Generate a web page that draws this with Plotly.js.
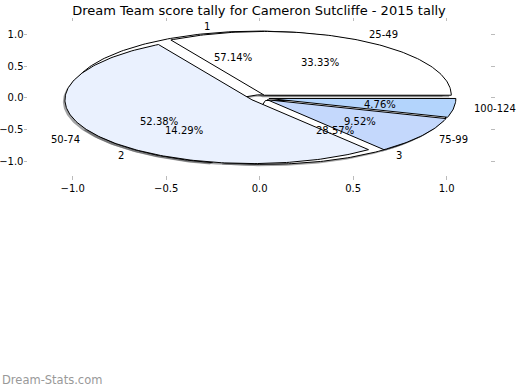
<!DOCTYPE html>
<html>
<head>
<meta charset="utf-8">
<script src="https://cdn.plot.ly/plotly-3.0.1.min.js"></script>
<style>html,body{margin:0;padding:0;background:#fff;}#chart{width:520px;height:390px;}</style>
</head>
<body>
<div id="chart"></div>
<script>
// ---- data ----
const titleText = 'Dream Team score tally for Cameron Sutcliffe - 2015 tally';
const outerLabels = ['25-49', '50-74', '75-99', '100-124'];
const outerCounts = [7, 11, 2, 1];
const innerLabels = ['1', '2', '3'];
const innerCounts = [4, 1, 2];
const tickVals = [-1.0, -0.5, 0.0, 0.5, 1.0];
const watermark = 'Dream-Stats.com';

// ---- style ----
const outerColors = ['#ffffff', '#eaf1fe', '#c4d8fc', '#b3d4fc'];
const innerColors = ['#ffffff', '#ffffff', '#ffffff'];
const explode = 0.05;
const labelDist = 1.1;
const pctDist = 0.6;
const shadowOffX = -0.011;
const shadowOffY = -0.03;
const FONT = 'DejaVu Sans, sans-serif';

function parseHex(h) {
  return [parseInt(h.slice(1, 3), 16), parseInt(h.slice(3, 5), 16), parseInt(h.slice(5, 7), 16)];
}

function buildPie(labels, counts, colors) {
  const total = counts.reduce((a, b) => a + b, 0);
  let start = 0;
  const wedges = [];
  counts.forEach((c, i) => {
    const span = 360 * c / total;
    const a0 = start, a1 = start + span;
    const mid = (a0 + a1) / 2 * Math.PI / 180;
    const cx = explode * Math.cos(mid), cy = explode * Math.sin(mid);
    const xs = [cx], ys = [cy];
    const n = Math.max(4, Math.ceil(span / 1));
    for (let k = 0; k <= n; k++) {
      const t = (a0 + span * k / n) * Math.PI / 180;
      xs.push(cx + Math.cos(t));
      ys.push(cy + Math.sin(t));
    }
    xs.push(cx); ys.push(cy);
    wedges.push({
      xs, ys, color: colors[i], label: labels[i],
      pct: (100 * c / total).toFixed(2) + '%',
      lx: cx + labelDist * Math.cos(mid), ly: cy + labelDist * Math.sin(mid),
      px: cx + pctDist * Math.cos(mid), py: cy + pctDist * Math.sin(mid)
    });
    start = a1;
  });
  return wedges;
}

const outer = buildPie(outerLabels, outerCounts, outerColors);
const inner = buildPie(innerLabels, innerCounts, innerColors);

const traces = [];
// shadows (below all wedges)
[inner, outer].forEach(pie => pie.forEach(w => {
  const rgb = parseHex(w.color).map(v => Math.round(v * 0.3));
  traces.push({
    type: 'scatter', mode: 'lines', fill: 'toself',
    x: w.xs.map(v => v + shadowOffX), y: w.ys.map(v => v + shadowOffY),
    fillcolor: 'rgba(' + rgb.join(',') + ',0.5)',
    line: {width: 0, color: 'rgba(0,0,0,0)'},
    hoverinfo: 'skip', showlegend: false
  });
}));
// wedges: inner pie first, outer pie on top
[inner, outer].forEach(pie => pie.forEach(w => {
  traces.push({
    type: 'scatter', mode: 'lines', fill: 'toself',
    x: w.xs, y: w.ys,
    fillcolor: w.color,
    line: {width: 1, color: '#000000'},
    hoverinfo: 'skip', showlegend: false
  });
}));

const annotations = [];
[outer, inner].forEach(pie => pie.forEach(w => {
  annotations.push({
    x: w.lx, y: w.ly, xref: 'x', yref: 'y', text: w.label, showarrow: false,
    xanchor: w.lx > 0 ? 'left' : 'right', yanchor: 'middle',
    font: {family: FONT, size: 10, color: '#000'}
  });
  annotations.push({
    x: w.px, y: w.py, xref: 'x', yref: 'y', text: w.pct, showarrow: false,
    xanchor: 'center', yanchor: 'middle',
    font: {family: FONT, size: 10, color: '#000'}
  });
}));
annotations.push({
  x: -28 / 462, y: (175 - 380) / 153, xref: 'paper', yref: 'paper',
  text: watermark, showarrow: false, xanchor: 'left', yanchor: 'middle',
  font: {family: FONT, size: 11.5, color: '#999999'}
});

const axisCommon = {
  tickmode: 'array', tickvals: tickVals, tickformat: '.1f',
  ticks: 'outside', ticklen: 3.5, tickwidth: 1, tickcolor: '#bbbbbb',
  showgrid: false, zeroline: false,
  showline: true, linecolor: 'rgba(0,0,0,0)', mirror: 'ticks',
  tickfont: {family: FONT, size: 10, color: '#000'},
  fixedrange: true
};

const layout = {
  width: 520, height: 390,
  margin: {l: 28, r: 30, t: 22, b: 215, pad: 0},
  paper_bgcolor: '#ffffff', plot_bgcolor: '#ffffff',
  showlegend: false,
  title: {
    text: titleText, x: 0.5, xref: 'paper', y: 1 - 10 / 390, yref: 'container',
    xanchor: 'center', yanchor: 'middle',
    font: {family: FONT, size: 13, color: '#000'}
  },
  xaxis: Object.assign({range: [-1.239, 1.232]}, axisCommon),
  yaxis: Object.assign({range: [-1.207, 1.191], ticklabelstandoff: -2}, axisCommon),
  annotations: annotations,
  hovermode: false
};

Plotly.newPlot('chart', traces, layout, {displayModeBar: false, staticPlot: true});
</script>
</body>
</html>
